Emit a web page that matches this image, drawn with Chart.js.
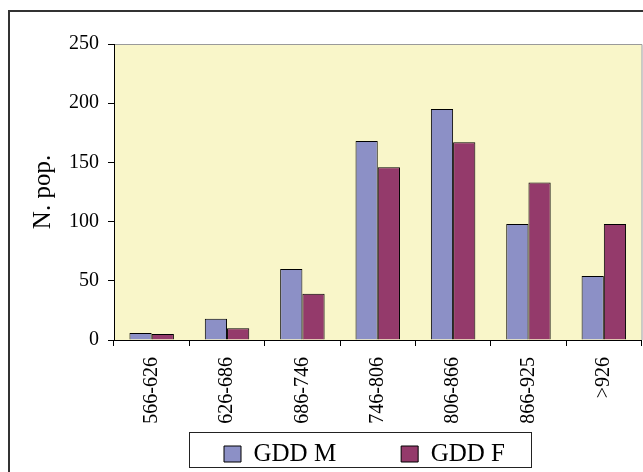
<!DOCTYPE html>
<html>
<head>
<meta charset="utf-8">
<script src="https://cdn.jsdelivr.net/npm/chart.js@4/dist/chart.umd.min.js"></script>
<style>
  html, body { margin: 0; padding: 0; background: #ffffff; }
  #wrap { width: 643px; height: 472px; }
</style>
</head>
<body>
<div id="wrap"><canvas id="c" width="643" height="472"></canvas></div>
<script>
// GDD classes and number of populations per class
const categories = ['566-626', '626-686', '686-746', '746-806', '806-866', '866-925', '>926'];
const gddM = [6, 18, 60, 168, 195, 98, 54];
const gddF = [5, 10, 39, 146, 167, 133, 98];
const yTicks = [0, 50, 100, 150, 200, 250];
const seriesNames = ['GDD M', 'GDD F'];
const yTitle = 'N. pop.';

const SERIF = '"Liberation Serif", "Times New Roman", serif';
const COL_M = '#8C90C6';
const COL_F = '#943A6B';
const PLOT_BG = '#F9F6C9';

// Outer frame, plot background, plot top/right edges and legend frame
const decor = {
  id: 'decor',
  afterUpdate(chart) {
    // place the legend row under the category labels
    const lg = chart.legend;
    const pad = lg.options.labels.padding;
    lg.left = 224 - pad;
    lg.right = 643;
    lg.width = lg.right - lg.left;
    lg.top = 441.5 - pad;
  },
  beforeDraw(chart) {
    const ctx = chart.ctx;
    const a = chart.chartArea;
    ctx.save();
    ctx.fillStyle = '#ffffff';
    ctx.fillRect(0, 0, chart.width, chart.height);
    ctx.strokeStyle = '#333333';
    ctx.lineWidth = 2;
    ctx.strokeRect(9, 11, 700, 520);
    ctx.fillStyle = PLOT_BG;
    ctx.fillRect(a.left, a.top, a.right - a.left, a.bottom - a.top);
    ctx.strokeStyle = '#9a9a9a';
    ctx.lineWidth = 1;
    ctx.beginPath();
    ctx.moveTo(a.left, a.top + 0.5);
    ctx.lineTo(a.right + 0.5, a.top + 0.5);
    ctx.lineTo(a.right + 0.5, a.bottom);
    ctx.stroke();
    ctx.restore();
  },
  afterDraw(chart) {
    const ctx = chart.ctx;
    ctx.save();
    ctx.strokeStyle = '#222222';
    ctx.lineWidth = 1;
    ctx.strokeRect(189.5, 432.5, 342, 35);
    ctx.restore();
  }
};

new Chart(document.getElementById('c'), {
  type: 'bar',
  data: {
    labels: categories,
    datasets: [
      { label: seriesNames[0], data: gddM, backgroundColor: COL_M, borderColor: '#000000', borderWidth: 1 },
      { label: seriesNames[1], data: gddF, backgroundColor: COL_F, borderColor: '#000000', borderWidth: 1 }
    ]
  },
  options: {
    responsive: false,
    animation: false,
    devicePixelRatio: 1,
    layout: { padding: { top: 44, left: 0, right: 1.5, bottom: 0 } },
    datasets: { bar: { categoryPercentage: 0.59, barPercentage: 1.0 } },
    plugins: {
      legend: {
        position: 'bottom',
        align: 'start',
        maxHeight: 40,
        labels: {
          font: { family: SERIF, size: 25 },
          color: '#000000',
          boxWidth: 17,
          boxHeight: 16,
          padding: 65
        }
      },
      tooltip: { enabled: false },
      title: { display: false }
    },
    scales: {
      x: {
        offset: true,
        grid: { offset: true, drawOnChartArea: false, drawTicks: true, tickLength: 6, color: '#000000' },
        border: { display: true, color: '#000000', width: 1 },
        ticks: {
          autoSkip: false,
          minRotation: 90,
          maxRotation: 90,
          padding: 11,
          color: '#000000',
          font: { family: SERIF, size: 20 }
        },
        afterFit(scale) { scale.height = 92; }
      },
      y: {
        min: 0,
        max: 250,
        afterBuildTicks(scale) { scale.ticks = yTicks.map(v => ({ value: v })); },
        grid: { drawOnChartArea: false, drawTicks: true, tickLength: 6, color: '#000000' },
        border: { display: true, color: '#000000', width: 1 },
        ticks: {
          padding: 9,
          color: '#000000',
          font: { family: SERIF, size: 20 }
        },
        title: {
          display: true,
          text: yTitle,
          color: '#000000',
          font: { family: SERIF, size: 25 },
          padding: { top: 28, bottom: 0 }
        },
        afterFit(scale) { scale.width = 114; }
      }
    }
  },
  plugins: [decor]
});
</script>
</body>
</html>
